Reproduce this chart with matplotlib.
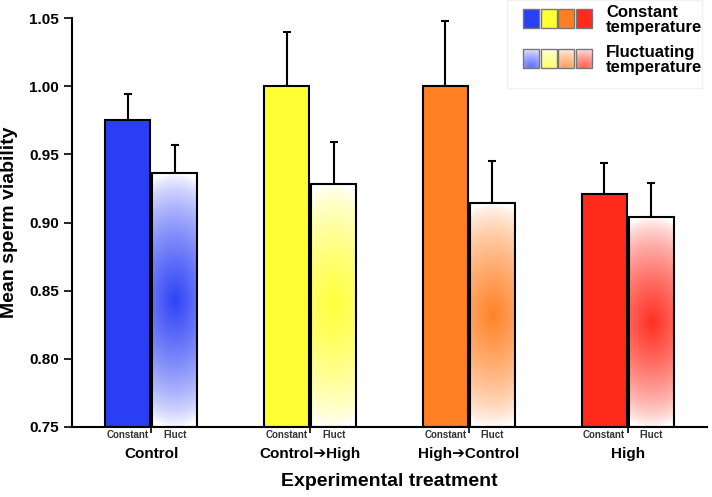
import numpy as np
import matplotlib

matplotlib.use("Agg")
import matplotlib.pyplot as plt
from matplotlib import transforms
from matplotlib.colors import to_rgb
from matplotlib.patches import Rectangle

plt.rcParams["font.family"] = ["Liberation Sans", "DejaVu Sans"]
plt.rcParams["font.weight"] = "bold"

groups = ["Control", "Control\u2794High", "High\u2794Control", "High"]
colors = ["#2a3ef6", "#ffff33", "#ff7f22", "#fe2a1c"]
const_mean = [0.975, 1.000, 1.000, 0.921]
const_err = [0.019, 0.040, 0.048, 0.023]
fluct_mean = [0.936, 0.928, 0.914, 0.904]
fluct_err = [0.021, 0.031, 0.031, 0.025]
y_ticks = [0.75, 0.80, 0.85, 0.90, 0.95, 1.00, 1.05]


def grad_img(color, nx=40, ny=200, sx=3.0, sy=1.0, cy=0.0, peak=0.97):
    x = np.linspace(-1, 1, nx)
    y = np.linspace(-1, 1, ny)
    X, Y = np.meshgrid(x, y)
    r = np.sqrt((X / sx) ** 2 + ((Y - cy) / sy) ** 2)
    w = np.clip(1 - r, 0, 1) ** 0.7 * peak
    rgb = np.array(to_rgb(color))
    return 1 - w[..., None] * (1 - rgb)


fig = plt.figure(figsize=(7.12, 4.97), dpi=100)
ax = fig.add_axes([72 / 712, 1 - 427 / 497, (707 - 72) / 712, (427 - 18) / 497])

x = np.arange(len(groups))
off = 0.148
bw = 0.284
ymin = 0.75

ax.bar(x - off, np.array(const_mean) - ymin, bw, bottom=ymin, color=colors,
       edgecolor="black", linewidth=1.5, zorder=2)
ax.errorbar(x - off, const_mean, yerr=[np.zeros(4), const_err], fmt="none",
            ecolor="black", elinewidth=1.5, capsize=3, capthick=1.5, zorder=1)

for i in range(len(groups)):
    x0 = x[i] + off - bw / 2
    ax.imshow(grad_img(colors[i]), extent=[x0, x0 + bw, ymin, fluct_mean[i]],
              aspect="auto", origin="lower", zorder=2, interpolation="bilinear")
ax.bar(x + off, np.array(fluct_mean) - ymin, bw, bottom=ymin, color="none",
       edgecolor="black", linewidth=1.5, zorder=3)
ax.errorbar(x + off, fluct_mean, yerr=[np.zeros(4), fluct_err], fmt="none",
            ecolor="black", elinewidth=1.5, capsize=3, capthick=1.5, zorder=1)

ax.set_xlim(-0.5, 3.5)
ax.set_ylim(0.75, 1.05)
ax.set_yticks(y_ticks)
ax.set_yticklabels([f"{v:.2f}" for v in y_ticks], fontsize=11, fontweight="bold")
ax.set_xticks(x)
ax.set_xticklabels([])
ax.tick_params(axis="y", length=6, width=1.2, direction="out")
ax.tick_params(axis="x", length=4, width=1.2, direction="out")
for s in ["top", "right"]:
    ax.spines[s].set_visible(False)
for s in ["left", "bottom"]:
    ax.spines[s].set_linewidth(1.5)

ax.set_ylabel("Mean sperm viability", fontsize=14, fontweight="bold", labelpad=8)

trans = transforms.blended_transform_factory(ax.transData, fig.transFigure)
for i, g in enumerate(groups):
    ax.text(x[i] - off, 1 - 435 / 497, "Constant", transform=trans, ha="center",
            va="center", fontsize=7, fontweight="bold", color="#333333")
    ax.text(x[i] + off, 1 - 435 / 497, "Fluct", transform=trans, ha="center",
            va="center", fontsize=7, fontweight="bold", color="#333333")
    ax.text(x[i], 1 - 454 / 497, g, transform=trans, ha="center", va="center",
            fontsize=11, fontweight="bold")
ax.text(1.5, 1 - 482 / 497, "Experimental treatment", transform=trans,
        ha="center", va="center", fontsize=14, fontweight="bold")

# legend drawn in pixel coordinates
lg = fig.add_axes([0, 0, 1, 1], zorder=5)
lg.axis("off")
lg.patch.set_alpha(0)
lg.add_patch(Rectangle((507, 0), 195, 88, facecolor="white", edgecolor="#f0f0f0",
                       linewidth=1, zorder=1))
bx = [523, 541, 558, 576]
for i, c in enumerate(colors):
    lg.add_patch(Rectangle((bx[i], 9), 16, 19, facecolor=c, edgecolor="#777777",
                           linewidth=1, zorder=2))
    lg.imshow(grad_img(c, nx=20, ny=20, sx=3.0, sy=2.2, cy=1.0, peak=0.75),
              extent=[bx[i], bx[i] + 16, 68, 49], aspect="auto",
              interpolation="bilinear", zorder=3)
    lg.add_patch(Rectangle((bx[i], 49), 16, 19, facecolor="none", edgecolor="#777777",
                           linewidth=1, zorder=4))
lg.set_xlim(0, 712)
lg.set_ylim(497, 0)
lg.text(606, 20, "Constant\ntemperature", ha="left", va="center", fontsize=12,
        fontweight="bold", linespacing=0.95)
lg.text(606, 60, "Fluctuating\ntemperature", ha="left", va="center", fontsize=12,
        fontweight="bold", linespacing=0.95)

fig.savefig("out.png", dpi=100)
